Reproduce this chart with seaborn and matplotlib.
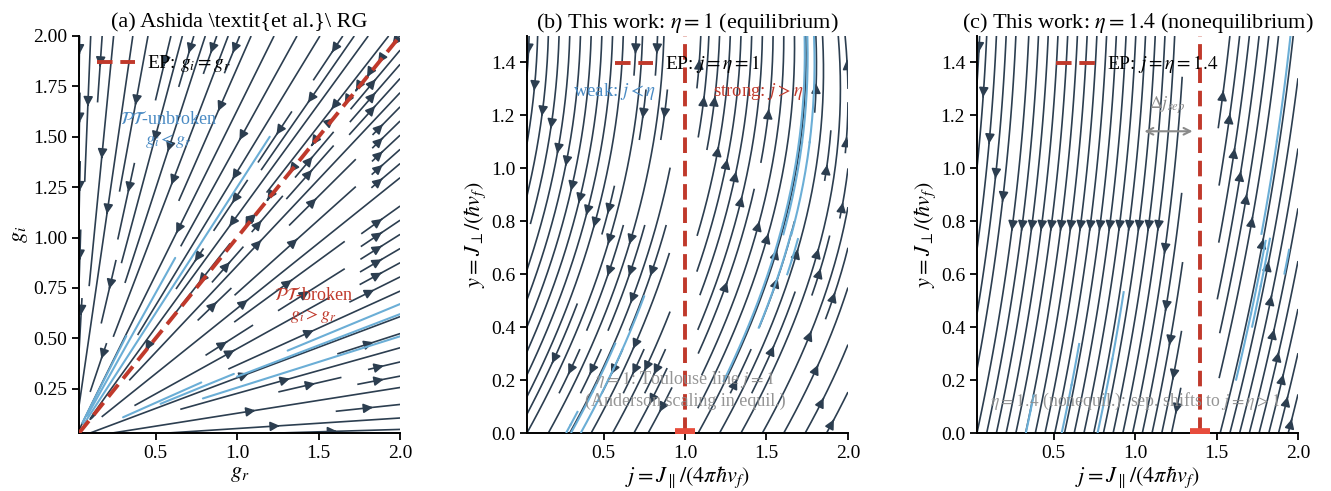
import numpy as np
import matplotlib
matplotlib.use("Agg")
import matplotlib.pyplot as plt
import seaborn as sns

# ---------------- data ----------------
# panel (a): Ashida et al. RG plane (g_r, g_i)
A_RANGE = [0.03, 2.0]
A_XTICKS = [0.5, 1.0, 1.5, 2.0]
A_YTICKS = [0.25, 0.50, 0.75, 1.00, 1.25, 1.50, 1.75, 2.00]
# highlighted (light-blue) sample trajectories: rays g_i = ratio * g_r
A_BLUE_RATIO = [1.25, 1.60, 1.45, 0.335, 0.31, 0.255, 0.36, 0.33]
A_BLUE_START = [0.06, 0.05, 0.08, 1.31, 1.00, 0.79, 0.30, 0.53]
A_BLUE_END = [1.20, 0.32, 0.62, 2.00, 2.00, 2.00, 0.78, 0.98]

# panels (b), (c): (j, y) plane
J_RANGE = [0.03, 2.0]
Y_RANGE = [0.0, 1.5]
JY_XTICKS = [0.5, 1.0, 1.5, 2.0]
JY_YTICKS = [0.0, 0.2, 0.4, 0.6, 0.8, 1.0, 1.2, 1.4]
ETA_B = 1.0
ETA_C = 1.4
# flow shape parameters (left of EP, right of EP)
B_SLOPE = [0.90, 0.90]
B_YC = [1.58, 1.62]
B_YC_CURV = 0.35
B_GAP = 0.07
C_SLOPE = [0.35, 0.42]
C_YC = [1.90, 2.60]
C_YC_CURV = 0.0
C_GAP = 0.10
# highlighted trajectories (start j, start y, length in axes units)
B_BLUE_J = [0.27, 0.30, 0.36, 1.20, 1.42, 1.60, 1.58, 1.63]
B_BLUE_Y = [0.00, 0.00, 0.00, 0.15, 0.35, 0.55, 0.70, 0.70]
B_BLUE_LEN = [0.08, 0.28, 0.42, 1.30, 0.30, 0.15, 1.00, 1.00]
C_BLUE_J = [0.33, 0.55, 0.77, 1.60, 1.70, 1.76, 1.90]
C_BLUE_Y = [0.00, 0.00, 0.00, 0.15, 0.35, 0.70, 0.55]
C_BLUE_LEN = [0.10, 0.25, 0.38, 0.42, 0.28, 0.60, 0.13]

# ---------------- style ----------------
NAVY = "#2c3e50"
LIGHT = "#6baed6"
RED = "#c0392b"
RED2 = "#e74c3c"
BLUE_TXT = "#4a8bc4"
GRAY = "#8a8a8a"

sns.set_theme(style="ticks")
plt.rcParams.update({
    "font.family": "serif",
    "font.serif": ["Liberation Serif", "DejaVu Serif"],
    "mathtext.fontset": "stix",
    "text.color": "black",
    "axes.labelcolor": "black",
    "axes.titlecolor": "black",
    "axes.linewidth": 1.4,
    "axes.edgecolor": "black",
    "axes.labelpad": 2.0,
    "xtick.color": "black",
    "ytick.color": "black",
    "xtick.labelcolor": "black",
    "ytick.labelcolor": "black",
    "xtick.direction": "out",
    "ytick.direction": "out",
    "xtick.major.size": 5,
    "ytick.major.size": 5,
    "xtick.major.width": 1.3,
    "ytick.major.width": 1.3,
    "xtick.labelsize": 14,
    "ytick.labelsize": 14,
    "axes.labelsize": 16,
    "axes.titlesize": 16,
    "legend.fontsize": 14,
    "legend.handlelength": 2.0,
    "legend.handletextpad": 0.6,
})

fig = plt.figure(figsize=(13.31, 4.91), dpi=100)
axA = fig.add_axes([0.0594, 0.1181, 0.2412, 0.8086])
axB = fig.add_axes([0.3959, 0.1181, 0.2412, 0.8086])
axC = fig.add_axes([0.7340, 0.1181, 0.2412, 0.8086])

STREAM_KW = dict(color=NAVY, linewidth=1.2, arrowstyle="-|>", arrowsize=1.4)

# ---------------- panel (a) ----------------
g = np.linspace(A_RANGE[0], A_RANGE[1], 120)
GR, GI = np.meshgrid(g, g)
UA = GR * (GR - GI)
VA = GI * (GR - GI)
axA.streamplot(GR, GI, UA, VA, density=1.0, **STREAM_KW)

for r, s, e in zip(A_BLUE_RATIO, A_BLUE_START, A_BLUE_END):
    xs = np.array([s, e])
    sns.lineplot(x=xs, y=r * xs, ax=axA, color=LIGHT, lw=1.5, zorder=3)

sns.lineplot(x=A_RANGE, y=A_RANGE, ax=axA, color=RED, lw=2.8,
             linestyle=(0, (4, 2)), zorder=4, label=r"EP: $g_i=g_r$")
axA.set_xlim(A_RANGE)
axA.set_ylim(A_RANGE)
axA.set_xticks(A_XTICKS)
axA.set_yticks(A_YTICKS)
axA.set_xticklabels([f"{t:.1f}" for t in A_XTICKS])
axA.set_yticklabels([f"{t:.2f}" for t in A_YTICKS])
axA.set_xlabel(r"$g_r$")
axA.set_ylabel(r"$g_i$")
axA.set_title(r"(a) Ashida \textit{et al.}\ RG")
axA.text(0.58, 1.53, "$\\mathcal{PT}$-unbroken\n$g_i<g_r$", color=BLUE_TXT,
         fontsize=13, ha="center", va="center", zorder=5)
axA.text(1.47, 0.66, "$\\mathcal{PT}$-broken\n$g_i>g_r$", color=RED,
         fontsize=13, ha="center", va="center", zorder=5)
axA.legend(loc="upper left", frameon=False)


# ---------------- panels (b), (c) ----------------
def jy_field(eta, slope, yc, curv, gap):
    j = np.linspace(J_RANGE[0], J_RANGE[1], 160)
    y = np.linspace(Y_RANGE[0], Y_RANGE[1], 120)
    J, Y = np.meshgrid(j, y)
    left = J < eta
    a = np.where(left, slope[0], slope[1])
    ycrit = np.where(left, yc[0], yc[1] - curv * (J - eta) ** 2)
    V = (J - eta)
    U = V * a * (1.0 - Y / ycrit)
    mask = np.abs(J - eta) < gap
    return J, Y, np.ma.masked_where(mask, U), np.ma.masked_where(mask, V)


def jy_panel(ax, eta, slope, yc, curv, gap, bj, by, bl, density, title, leg):
    J, Y, U, V = jy_field(eta, slope, yc, curv, gap)
    ax.streamplot(J, Y, U, V, density=density, **STREAM_KW)
    for j0, y0, ln in zip(bj, by, bl):
        direction = "backward" if j0 < eta else "forward"
        ax.streamplot(J, Y, U, V, start_points=[[j0, y0]],
                      integration_direction=direction, maxlength=ln,
                      minlength=0.005, color=LIGHT, linewidth=1.5,
                      arrowstyle="-", broken_streamlines=False, zorder=3)
    ax.axvline(eta, color=RED, lw=2.8, linestyle=(0, (4, 2)), zorder=4,
               label=leg)
    ax.plot([eta], [0], marker="_", markersize=15, mew=7, color=RED2,
            zorder=5, clip_on=True)
    ax.set_xlim(J_RANGE)
    ax.set_ylim(Y_RANGE)
    ax.set_xticks(JY_XTICKS)
    ax.set_yticks(JY_YTICKS)
    ax.set_xticklabels([f"{t:.1f}" for t in JY_XTICKS])
    ax.set_yticklabels([f"{t:.1f}" for t in JY_YTICKS])
    ax.set_xlabel(r"$j=J_\parallel/(4\pi\hbar v_f)$")
    ax.set_ylabel(r"$y=J_\perp/(\hbar v_f)$")
    ax.set_title(title)
    ax.legend(loc="upper center", frameon=False)


jy_panel(axB, ETA_B, B_SLOPE, B_YC, B_YC_CURV, B_GAP,
         B_BLUE_J, B_BLUE_Y, B_BLUE_LEN, 1.05,
         r"(b) This work: $\eta=1$ (equilibrium)", r"EP: $j=\eta=1$")
axB.text(0.57, 1.29, r"weak: $j<\eta$", color=BLUE_TXT, fontsize=13.5,
         ha="center", va="center", zorder=5)
axB.text(1.45, 1.29, r"strong: $j>\eta$", color=RED, fontsize=13.5,
         ha="center", va="center", zorder=5)
axB.text(1.0, 0.165, "$\\eta=1$: Toulouse line $j=1$\n(Anderson scaling in equil.)",
         color=GRAY, alpha=0.9, fontsize=13, ha="center", va="center",
         zorder=5)

jy_panel(axC, ETA_C, C_SLOPE, C_YC, C_YC_CURV, C_GAP,
         C_BLUE_J, C_BLUE_Y, C_BLUE_LEN, 1.15,
         r"(c) This work: $\eta=1.4$ (nonequilibrium)", r"EP: $j=\eta=1.4$")
axC.text(1.0, 0.12, r"$\eta=1.4$ (nonequil.): sep. shifts to $j=\eta>1$",
         color=GRAY, alpha=0.9, fontsize=12.8, ha="center", va="center",
         zorder=5)
axC.annotate("", xy=(1.04, 1.14), xytext=(1.37, 1.14),
             arrowprops=dict(arrowstyle="<->", color=GRAY, lw=1.5))
axC.text(1.2, 1.24, r"$\Delta j_{sep}$", color=GRAY, fontsize=13,
         ha="center", va="center")

for ax in (axA, axB, axC):
    sns.despine(ax=ax)

fig.savefig("out.png", dpi=100)
